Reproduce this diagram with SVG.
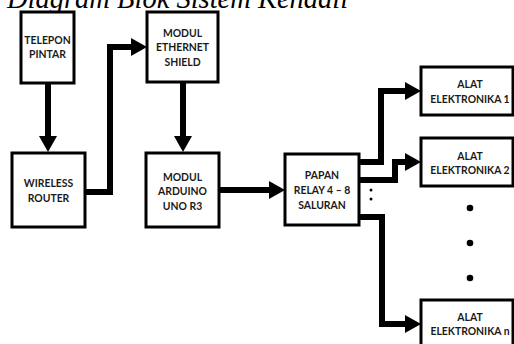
<svg xmlns="http://www.w3.org/2000/svg" width="514" height="344" viewBox="0 0 514 344">
<style>
.box{fill:#fff;stroke:#000;stroke-width:3}
.t{font-family:Lato,"Liberation Sans",sans-serif;font-weight:bold;font-size:10.4px;fill:#1a1a1a;text-anchor:middle}
.c{fill:none;stroke:#000;stroke-width:6;stroke-linejoin:miter}
.title{font-family:"Liberation Serif",serif;font-style:italic;font-size:28.5px;fill:#000}
</style>
<defs>
<marker id="ah" viewBox="0 0 16 18" refX="1" refY="9" markerWidth="16" markerHeight="18" markerUnits="userSpaceOnUse" orient="auto">
<path d="M0,0 L16,9 L0,18 z" fill="#000"/>
</marker>
</defs>
<text class="title" x="7" y="8">Diagram Blok Sistem Kendali</text>
<g id="telepon"><rect class="box" x="21" y="12" width="53" height="71"/><text class="t" x="47.5" y="44">TELEPON</text><text class="t" x="47.5" y="58">PINTAR</text></g>
<g id="router"><rect class="box" x="12" y="153" width="73" height="74"/><text class="t" x="48.5" y="187">WIRELESS</text><text class="t" x="48.5" y="202">ROUTER</text></g>
<g id="ethernet"><rect class="box" x="147" y="12" width="71" height="70"/><text class="t" x="182.5" y="37">MODUL</text><text class="t" x="182.5" y="51">ETHERNET</text><text class="t" x="182.5" y="66">SHIELD</text></g>
<g id="arduino"><rect class="box" x="146" y="153" width="73" height="74"/><text class="t" x="182.5" y="181">MODUL</text><text class="t" x="182.5" y="195">ARDUINO</text><text class="t" x="182.5" y="210">UNO R3</text></g>
<g id="relay"><rect class="box" x="285" y="154" width="74" height="71"/><text class="t" x="322" y="179">PAPAN</text><text class="t" x="322" y="194">RELAY 4 – 8</text><text class="t" x="322" y="209">SALURAN</text></g>
<g id="alat1"><rect class="box" x="421" y="67" width="92" height="48"/><text class="t" x="470" y="88">ALAT</text><text class="t" x="470" y="103">ELEKTRONIKA 1</text></g>
<g id="alat2"><rect class="box" x="421" y="138" width="92" height="48"/><text class="t" x="470" y="160">ALAT</text><text class="t" x="470" y="174">ELEKTRONIKA 2</text></g>
<g id="alatn"><rect class="box" x="421" y="300" width="92" height="48"/><text class="t" x="470" y="321">ALAT</text><text class="t" x="470" y="335">ELEKTRONIKA n</text></g>
<g id="connectors">
<path class="c" d="M48,83 V137" marker-end="url(#ah)"/>
<path class="c" d="M85,192 H110 V47 H132" marker-end="url(#ah)"/>
<path class="c" d="M183,82 V137" marker-end="url(#ah)"/>
<path class="c" d="M219,190 H270" marker-end="url(#ah)"/>
<path class="c" d="M359,162 H381 V91 H406" marker-end="url(#ah)"/>
<path class="c" d="M359,180 H395 V162 H406" marker-end="url(#ah)"/>
<path class="c" d="M359,217 H382 V324 H406" marker-end="url(#ah)"/>
</g>
<g id="dots" fill="#000">
<circle cx="371" cy="190" r="1.5"/><circle cx="371" cy="199" r="1.5"/>
<circle cx="470" cy="208" r="3.3"/><circle cx="470" cy="243" r="3.3"/><circle cx="470" cy="278" r="3.3"/>
</g>
</svg>
